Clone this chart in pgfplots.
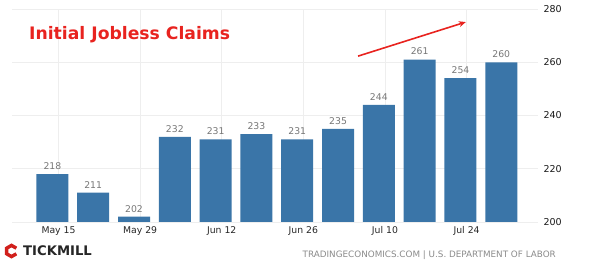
\documentclass[border=0pt]{standalone}
\usepackage{fontspec}
\setmainfont{DejaVu Sans}
\usepackage{pgfplots}
\pgfplotsset{compat=1.18}
\usetikzlibrary{arrows.meta}
\definecolor{barblue}{HTML}{3A75A8}
\definecolor{titlered}{HTML}{E8231F}
\definecolor{gridgray}{HTML}{EEEEEE}
\definecolor{labgray}{HTML}{777777}
\definecolor{footgray}{HTML}{8A8A8A}
\begin{document}
\begin{tikzpicture}[x=1pt,y=1pt]
\path[use as bounding box] (0,0) rectangle (602,265);
\begin{axis}[
  at={(12pt,43pt)}, anchor=south west,
  scale only axis, width=526pt, height=213pt,
  xmin=-0.99, xmax=11.9, ymin=200, ymax=280,
  axis line style={draw=none},
  ytick={200,220,240,260,280},
  yticklabel pos=right,
  xtick={0.15,2.15,4.15,6.15,8.15,10.15},
  xticklabels={May 15,May 29,Jun 12,Jun 26,Jul 10,Jul 24},
  major tick length=0pt,
  grid=major, major grid style={gridgray, line width=0.6pt},
  /pgf/number format/assume math mode=true,
  yticklabel style={font=\fontsize{9.5}{11}\selectfont, text=black!90, xshift=2pt},
  xticklabel style={font=\fontsize{9.3}{11}\selectfont, text=black!85, yshift=-1pt},
  clip=false,
]
\addplot[ybar, bar width=32pt, fill=barblue, draw=none,
  nodes near coords,
  every node near coord/.append style={font=\fontsize{9.3}{11}\selectfont, text=labgray, yshift=1pt},
  /pgf/number format/assume math mode=true]
  coordinates {(0,218) (1,211) (2,202) (3,232) (4,231) (5,233) (6,231) (7,235) (8,244) (9,261) (10,254) (11,260)};
\draw[titlered, line width=1.6pt, -{Stealth[length=7pt,width=6pt]}] (axis cs:7.49,262.3) -- (axis cs:10.13,275.1);
\end{axis}
\node[anchor=west, text=titlered, font=\fontsize{17.2}{20}\selectfont\bfseries, inner sep=0] at (29,230) {Initial Jobless Claims};
\node[anchor=east, text=footgray, font=\fontsize{8.8}{10}\selectfont, inner sep=0] at (556,10) {TRADINGECONOMICS.COM | U.S. DEPARTMENT OF LABOR};
% Tickmill logo
\begin{scope}[shift={(11.5,14)}]
  \draw[titlered!90!black, line width=3.4pt] (30:5.6) -- (90:5.6) -- (150:5.6) -- (210:5.6) -- (270:5.6) -- (330:5.6);
\end{scope}
\node[anchor=west, text=black!85, font=\fontsize{13.2}{15}\selectfont\bfseries, inner sep=0] at (23,14) {TICKMILL};
\end{tikzpicture}
\end{document}
